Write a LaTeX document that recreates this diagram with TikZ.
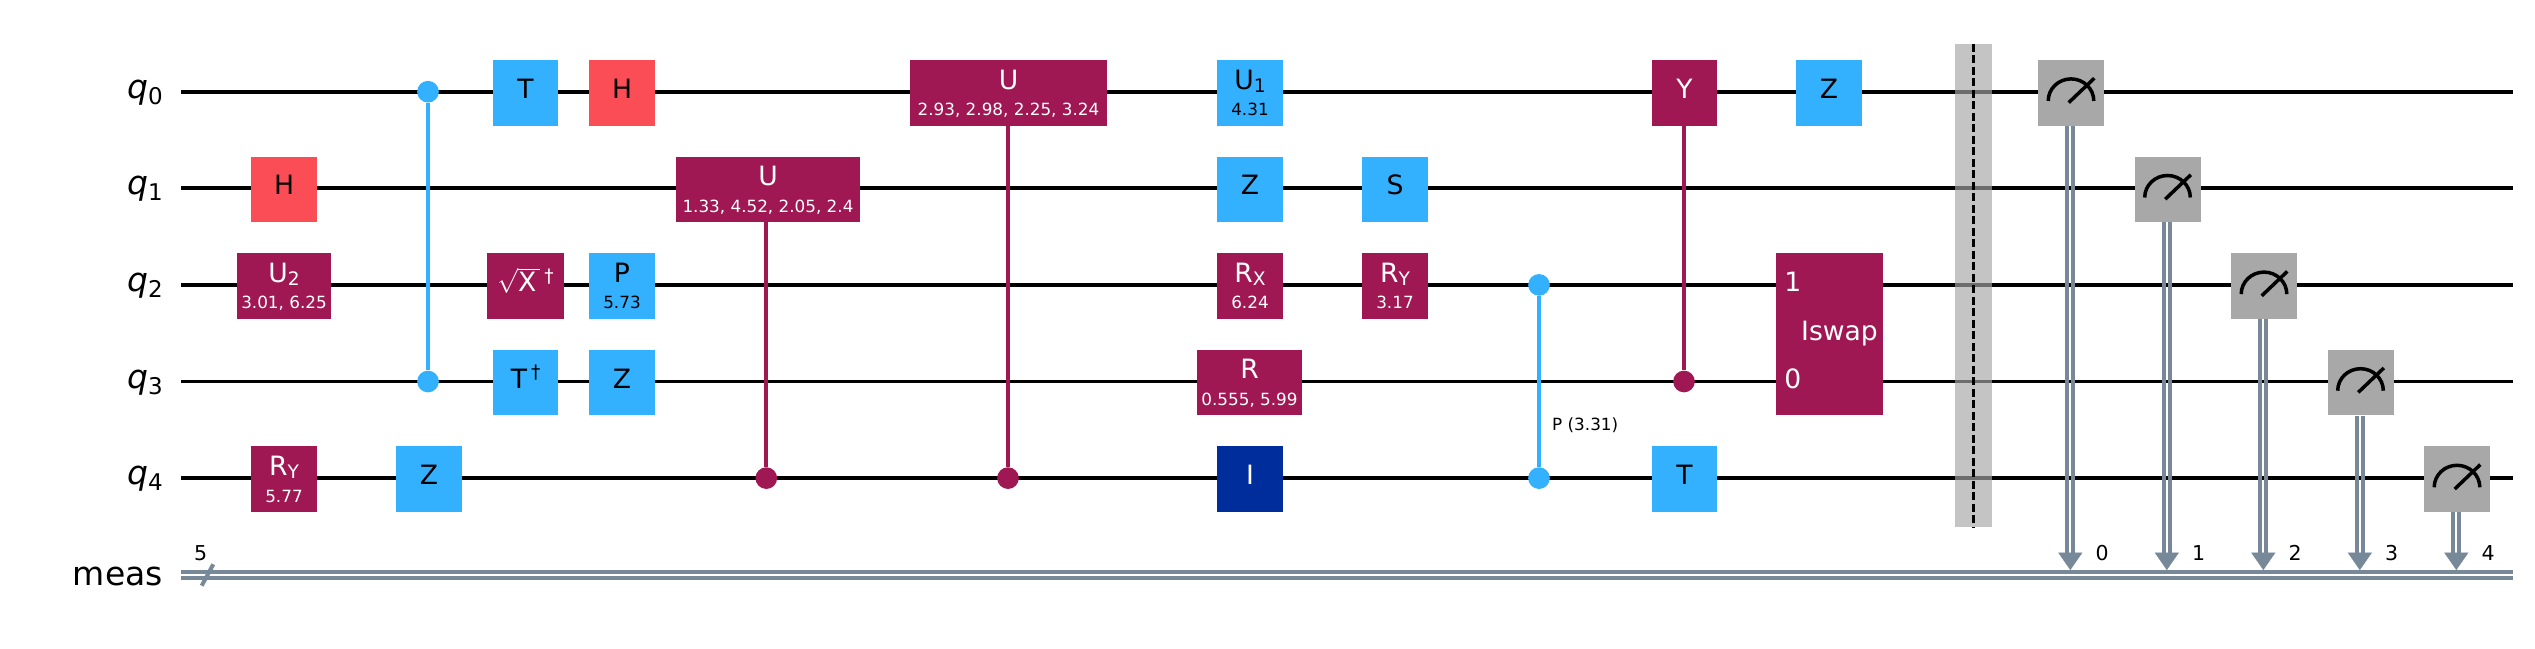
\documentclass[tikz,border=0pt]{standalone}
\usepackage{fontspec}
\setmainfont{DejaVu Sans}
\usetikzlibrary{arrows.meta}
\definecolor{QPurple}{HTML}{9F1853}
\definecolor{QBlue}{HTML}{33B1FF}
\definecolor{QRed}{HTML}{FA4D56}
\definecolor{QNavy}{HTML}{002D9C}
\definecolor{QGray}{HTML}{A8A8A8}
\definecolor{QSlate}{HTML}{778899}
\definecolor{QBarrier}{HTML}{A6A6A6}
\newcommand{\gatefont}{\fontsize{26.6}{30}\selectfont}
\newcommand{\parfont}{\fontsize{16.8}{19}\selectfont}
\newcommand{\regfont}{\fontsize{33}{38}\selectfont}
\newcommand{\idxfont}{\fontsize{20.5}{24}\selectfont}
\newcommand{\gsub}[1]{\raisebox{-3.4pt}{\fontsize{18.6}{18}\selectfont #1}}
\newcommand{\gdag}{\hspace{4pt}\raisebox{9.5pt}{\fontsize{18.6}{18}\selectfont †}}
\newcommand{\qlabel}[1]{{\regfont\itshape q}\raisebox{-6pt}{\fontsize{23}{24}\selectfont #1}}
% box with one text: fill, text colour, width, name, x, wire, text
\newcommand{\onegate}[7]{%
  \node[gatebox, fill=#1, minimum width=#3] (#4) at (#5,0 |- #6) {};
  \node[gatetxt, text=#2, yshift=-6.6pt] (#4t) at (#5,0 |- #6) {\gatefont #7};}
% box with text and parameter
\newcommand{\pargate}[8]{%
  \node[gatebox, fill=#1, minimum width=#3] (#4) at (#5,0 |- #6) {};
  \node[gatetxt, text=#2, yshift=2.6pt] (#4t) at (#5,0 |- #6) {\gatefont #7};
  \node[gatetxt, text=#2, yshift=-24pt] (#4p) at (#5,0 |- #6) {\parfont #8};}
% measurement: name, x, wire, classical bit
\newcommand{\measure}[4]{%
  \node[gatebox, fill=QGray, minimum width=66pt] (#1) at (#2,0 |- #3) {};
  \draw[meter] ([xshift=-22.8pt,yshift=-8.2pt]#1.center) arc[start angle=180, end angle=0, x radius=22.8pt, y radius=22pt];
  \draw[meter] ([xshift=-2.3pt,yshift=-9.9pt]#1.center) -- ([xshift=23.3pt,yshift=14.5pt]#1.center);
  \coordinate (#1a) at (#2-0.7,552.7);
  \coordinate (#1c) at (#2-0.7,570);
  \draw[cbit] ([xshift=-3pt]#1.south -| #1a) -- ([xshift=-3pt]#1a);
  \draw[cbit] ([xshift=3pt]#1.south -| #1a) -- ([xshift=3pt]#1a);
  \draw[ctip] (#1a) -- (#1c);
  \node[idxtxt] (#1i) at (#2+31,553) {\idxfont #4};}
\tikzset{
  wire/.style={black, line width=3.8pt},
  cbit/.style={QSlate, line width=4pt},
  ctip/.style={QSlate, line width=0.1pt, -{Triangle[width=24pt,length=17.3pt]}},
  gatebox/.style={rectangle, inner sep=0pt, minimum height=65.6pt, yshift=-1pt},
  gatetxt/.style={inner sep=0pt, anchor=base},
  idxtxt/.style={inner sep=0pt, anchor=center},
  ctrl/.style={circle, inner sep=0pt, minimum size=21.7pt},
  link/.style={line width=4pt},
  meter/.style={black, line width=3.5pt},
  reglabel/.style={inner sep=0pt, anchor=base east}
}
\begin{document}
\begin{tikzpicture}[x=1pt,y=-1pt]
  \useasboundingbox (0,0) rectangle (2535,648);

  % wires
  \foreach \i/\ypos in {0/91.7,1/188.3,2/284.9,3/381.5,4/478.1}
  {
    \coordinate (w\i) at (181,\ypos);
    \coordinate (e\i) at (2512.7,\ypos);
    \draw[wire] (w\i) -- (e\i);
    \node[reglabel, yshift=-6.6pt] (l\i) at (163,\ypos) {\qlabel{\i}};
  }
  \coordinate (wm) at (181,575);
  \coordinate (em) at (2512.7,575);
  \draw[QSlate, line width=4pt, double=white, double distance=2pt] (wm) -- (em);
  \node[reglabel, yshift=-10.2pt] (lm) at (163,575) {\regfont meas};
  \coordinate (sa) at (201.7,585.7);
  \coordinate (sb) at (213.3,564.3);
  \draw[QSlate, line width=4pt] (sa) -- (sb);
  \node[idxtxt] (sn) at (200.7,553) {\idxfont 5};

  % first columns
  \onegate{QRed}{black}{66pt}{h1}{284}{w1}{H}
  \pargate{QPurple}{white}{94pt}{ua}{284}{w2}{U\gsub{2}}{3.01, 6.25}
  \pargate{QPurple}{white}{66pt}{rya}{284}{w4}{R\gsub{Y}}{5.77}
  \node[ctrl, fill=QBlue] (cz0) at (428,0 |- w0) {};
  \node[ctrl, fill=QBlue] (cz3) at (428,0 |- w3) {};
  \draw[link, QBlue] (cz0) -- (cz3);
  \onegate{QBlue}{black}{66pt}{z4}{429}{w4}{Z}
  \onegate{QBlue}{black}{65pt}{t0}{525.6}{w0}{T}
  \onegate{QPurple}{white}{77pt}{sx2}{525.5}{w2}{$\sqrt{\mathrm{X}\,}$\gdag}
  \onegate{QBlue}{black}{65pt}{td3}{525.6}{w3}{T\gdag}
  \onegate{QRed}{black}{66pt}{h0}{622}{w0}{H}
  \pargate{QBlue}{black}{66pt}{p2}{622}{w2}{P}{5.73}
  \onegate{QBlue}{black}{66pt}{z3}{622}{w3}{Z}

  % controlled U
  \pargate{QPurple}{white}{184pt}{cu1}{768}{w1}{U}{1.33, 4.52, 2.05, 2.4}
  \node[ctrl, fill=QPurple] (cu1c) at (766.3,0 |- w4) {};
  \draw[link, QPurple] (cu1.south -| cu1c) -- (cu1c);
  \pargate{QPurple}{white}{197pt}{cu2}{1008.5}{w0}{U}{2.93, 2.98, 2.25, 3.24}
  \node[ctrl, fill=QPurple] (cu2c) at (1008,0 |- w4) {};
  \draw[link, QPurple] (cu2.south -| cu2c) -- (cu2c);

  % middle
  \pargate{QBlue}{black}{66pt}{u10}{1250}{w0}{U\gsub{1}}{4.31}
  \onegate{QBlue}{black}{66pt}{z1}{1250}{w1}{Z}
  \pargate{QPurple}{white}{66pt}{rx2}{1250}{w2}{R\gsub{X}}{6.24}
  \pargate{QPurple}{white}{105pt}{r3}{1249.5}{w3}{R}{0.555, 5.99}
  \onegate{QNavy}{white}{66pt}{i4}{1250}{w4}{I}
  \onegate{QBlue}{black}{66pt}{s1}{1395}{w1}{S}
  \pargate{QPurple}{white}{66pt}{ry2}{1395}{w2}{R\gsub{Y}}{3.17}

  % controlled P
  \node[ctrl, fill=QBlue] (cp2) at (1539,0 |- w2) {};
  \node[ctrl, fill=QBlue] (cp4) at (1539,0 |- w4) {};
  \draw[link, QBlue] (cp2) -- (cp4);
  \node[gatetxt, anchor=base west] (cplabel) at (1552,430) {\parfont P (3.31)};

  % controlled Y, Z, T, iswap
  \onegate{QPurple}{white}{65pt}{y0}{1684.5}{w0}{Y}
  \node[ctrl, fill=QPurple] (cy3) at (1684,0 |- w3) {};
  \draw[link, QPurple] (y0.south -| cy3) -- (cy3);
  \onegate{QBlue}{black}{65pt}{t4}{1684.5}{w4}{T}
  \onegate{QBlue}{black}{66pt}{z0}{1829}{w0}{Z}
  \node[rectangle, inner sep=0pt, fill=QPurple, minimum width=107pt, minimum height=162pt] (isw) at (1829.5,334) {};
  \node[gatetxt, text=white] (iswt) at (1839.5,340.7) {\gatefont Iswap};
  \node[gatetxt, text=white] (isw1) at (1792.7,291.7) {\gatefont 1};
  \node[gatetxt, text=white] (isw0) at (1792.7,388.3) {\gatefont 0};

  % barrier
  \node[rectangle, inner sep=0pt, fill=QBarrier, fill opacity=0.66, minimum width=37pt, minimum height=482.7pt] (bar) at (1973.5,285.35) {};
  \draw[black, line width=2.5pt, dash pattern=on 8pt off 3.5pt] (bar.north) -- (bar.south);

  % measurements
  \measure{m0}{2071}{w0}{0}
  \measure{m1}{2167.5}{w1}{1}
  \measure{m2}{2264}{w2}{2}
  \measure{m3}{2360.5}{w3}{3}
  \measure{m4}{2457}{w4}{4}

\end{tikzpicture}
\end{document}
